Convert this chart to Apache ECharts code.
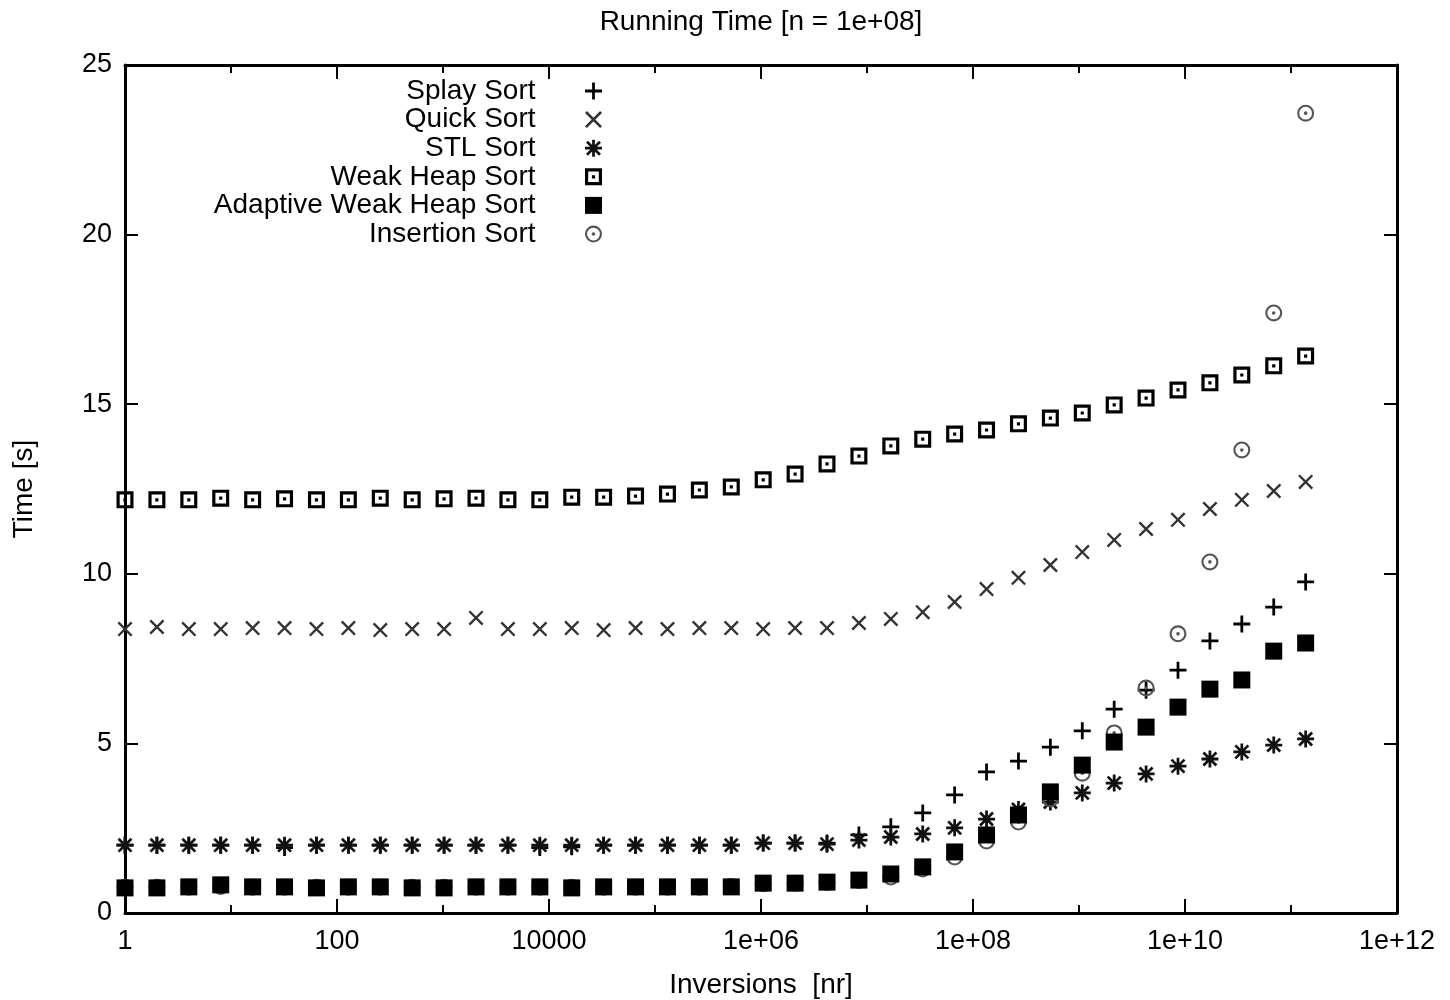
<!DOCTYPE html>
<html>
<head>
<meta charset="utf-8">
<script src="https://cdn.jsdelivr.net/npm/echarts@6/dist/echarts.min.js"></script>
<style>
html,body{margin:0;padding:0;background:#fff;}
#chart{width:1450px;height:1000px;}
</style>
</head>
<body>
<div id="chart"></div>
<script>
// ---- data ----
const inversions = [1, 2, 4, 8, 16, 32, 64, 128, 256, 512, 1024, 2048, 4096, 8192,
  16384, 32768, 65536, 131072, 262144, 524288, 1048576, 2097152, 4194304, 8388608,
  16777216, 33554432, 67108864, 134217728, 268435456, 536870912, 1073741824,
  2147483648, 4294967296, 8589934592, 17179869184, 34359738368, 68719476736, 137438953472];

const splaySort = [2.00, 2.00, 2.00, 2.00, 2.00, 1.93, 2.00, 2.00, 2.00, 2.00, 2.00, 2.00, 2.00, 1.93,
  1.95, 2.00, 2.00, 2.00, 2.00, 2.00, 2.06, 2.06, 2.06, 2.30, 2.54, 2.95, 3.48, 4.16,
  4.48, 4.89, 5.37, 6.01, 6.57, 7.16, 8.02, 8.52, 9.02, 9.76];

const quickSort = [8.37, 8.43, 8.37, 8.37, 8.40, 8.40, 8.37, 8.40, 8.34, 8.37, 8.37, 8.70, 8.37, 8.37,
  8.40, 8.34, 8.40, 8.37, 8.40, 8.40, 8.37, 8.40, 8.40, 8.55, 8.67, 8.87, 9.17, 9.55,
  9.88, 10.26, 10.64, 11.00, 11.32, 11.59, 11.91, 12.18, 12.44, 12.71];

const stlSort = [2.00, 2.00, 2.00, 2.00, 2.00, 2.00, 2.00, 2.00, 2.00, 2.00, 2.00, 2.00, 2.00, 2.00,
  2.00, 2.00, 2.00, 2.00, 2.00, 2.00, 2.06, 2.06, 2.03, 2.15, 2.24, 2.33, 2.51, 2.77,
  3.05, 3.27, 3.54, 3.83, 4.10, 4.33, 4.54, 4.75, 4.95, 5.13];

const weakHeapSort = [12.18, 12.18, 12.18, 12.23, 12.18, 12.21, 12.18, 12.18, 12.23, 12.18, 12.21, 12.23, 12.18, 12.18,
  12.26, 12.26, 12.29, 12.35, 12.47, 12.56, 12.77, 12.94, 13.24, 13.47, 13.77, 13.97, 14.12, 14.24,
  14.42, 14.59, 14.74, 14.98, 15.18, 15.42, 15.63, 15.86, 16.13, 16.42];

const adaptiveWeakHeapSort = [0.74, 0.74, 0.77, 0.83, 0.77, 0.77, 0.74, 0.77, 0.77, 0.74, 0.74, 0.77, 0.77, 0.77,
  0.74, 0.77, 0.77, 0.77, 0.77, 0.77, 0.88, 0.88, 0.91, 0.97, 1.15, 1.36, 1.80, 2.30,
  2.89, 3.57, 4.36, 5.04, 5.48, 6.07, 6.60, 6.87, 7.72, 7.96];

const insertionSort = [0.76, 0.76, 0.76, 0.78, 0.76, 0.76, 0.76, 0.76, 0.76, 0.76, 0.76, 0.76, 0.76, 0.76,
  0.76, 0.76, 0.76, 0.76, 0.76, 0.78, 0.86, 0.88, 0.90, 0.96, 1.06, 1.30, 1.65, 2.12,
  2.68, 3.36, 4.12, 5.31, 6.63, 8.23, 10.35, 13.65, 17.69, 23.58];

const seriesNames = ['Splay Sort', 'Quick Sort', 'STL Sort', 'Weak Heap Sort', 'Adaptive Weak Heap Sort', 'Insertion Sort'];
const xTickLabels = ['1', '100', '10000', '1e+06', '1e+08', '1e+10', '1e+12'];
const titleText = 'Running Time [n = 1e+08]';
const xAxisName = 'Inversions  [nr]';
const yAxisName = 'Time [s]';

// ---- styles ----
const FONT = '"Liberation Sans", Arial, sans-serif';
const SYM = {
  plus: 'path://M0,6.7L16,6.7L16,9.3L0,9.3Z M6.7,0L9.3,0L9.3,16L6.7,16Z',
  cross: 'path://M0,1.8L1.8,0L16,14.2L14.2,16Z M14.2,0L16,1.8L1.8,16L0,14.2Z',
  star: 'path://M0,6.7L16,6.7L16,9.3L0,9.3Z M6.7,0L9.3,0L9.3,16L6.7,16Z M1,2.8L2.8,1L15,13.2L13.2,15Z M13.2,1L15,2.8L2.8,15L1,13.2Z',
  boxDot: 'path://M0,0L16,0L16,16L0,16Z M3,3L3,13L13,13L13,3Z M6.5,6.5L9.5,6.5L9.5,9.5L6.5,9.5Z',
  box: 'path://M0,0L16,0L16,16L0,16Z',
  circleDot: 'path://M0,8A8,8,0,1,1,16,8A8,8,0,1,1,0,8Z M2,8A6,6,0,1,0,14,8A6,6,0,1,0,2,8Z M6.3,8A1.7,1.7,0,1,1,9.7,8A1.7,1.7,0,1,1,6.3,8Z'
};
const seriesValues = [splaySort, quickSort, stlSort, weakHeapSort, adaptiveWeakHeapSort, insertionSort];
const seriesSymbols = [SYM.plus, SYM.cross, SYM.star, SYM.boxDot, SYM.box, SYM.circleDot];
const seriesColors = ['#000000', '#333333', '#111111', '#000000', '#000000', '#555555'];
const seriesSizes = [17, 15, 17, 17, 17, 17];
const seriesZ = [3, 2, 4, 5, 8, 6];

const series = seriesNames.map((name, s) => ({
  name: name,
  type: 'scatter',
  xAxisIndex: 0,
  yAxisIndex: 0,
  symbol: seriesSymbols[s],
  symbolSize: seriesSizes[s],
  symbolKeepAspect: true,
  clip: false,
  itemStyle: { color: seriesColors[s], borderWidth: 0, opacity: 1 },
  emphasis: { disabled: true },
  data: inversions.map((x, i) => [x, seriesValues[s][i]]),
  z: seriesZ[s]
}));

const legendTops = [77, 105.6, 134.2, 162.8, 191.4, 220];
const legends = seriesNames.map((name, s) => ({
  orient: 'vertical',
  right: 848,
  top: legendTops[s],
  padding: 0,
  itemWidth: 106,
  itemHeight: 17,
  align: 'right',
  symbolKeepAspect: true,
  selectedMode: false,
  itemStyle: { borderWidth: 0 },
  textStyle: { fontSize: 28, color: '#000', fontFamily: FONT },
  data: [{ name: name, icon: seriesSymbols[s] }]
}));

const axisLineStyle = { color: '#000', width: 3 };
const tickStyle = { color: '#000', width: 2 };

// labelled log axes (every second decade, long ticks)
function logAxis(pos) {
  return {
    type: 'log',
    logBase: 100,
    min: 1,
    max: 1e12,
    position: pos,
    gridIndex: 0,
    axisLine: { show: true, onZero: false, lineStyle: axisLineStyle },
    axisTick: { show: true, inside: true, length: 14, lineStyle: tickStyle },
    splitLine: { show: false }
  };
}
// helper axes for the short per-decade ticks (exponent scale, no data)
function decadeTickAxis(pos) {
  return {
    type: 'value',
    min: 0,
    max: 12,
    interval: 1,
    position: pos,
    gridIndex: 0,
    axisLine: { show: false, onZero: false },
    axisTick: { show: true, inside: true, length: 8, lineStyle: tickStyle },
    axisLabel: { show: false },
    splitLine: { show: false }
  };
}

const option = {
  animation: false,
  backgroundColor: '#fff',
  title: {
    text: titleText,
    left: 761,
    top: 8,
    padding: 0,
    textAlign: 'center',
    textStyle: { fontSize: 28, fontWeight: 'normal', color: '#000', fontFamily: FONT }
  },
  legend: legends,
  grid: { left: 125, right: 53, top: 65, bottom: 87, containLabel: false, outerBoundsMode: 'none' },
  xAxis: [
    Object.assign(logAxis('bottom'), {
      axisLabel: {
        show: true, margin: 15, fontSize: 27, color: '#000', fontFamily: FONT,
        formatter: (v) => xTickLabels[Math.round(Math.log10(v) / 2)]
      },
      name: xAxisName,
      nameLocation: 'middle',
      nameGap: 58,
      nameTextStyle: { fontSize: 28, color: '#000', fontFamily: FONT }
    }),
    Object.assign(logAxis('top'), { axisLabel: { show: false } }),
    decadeTickAxis('bottom'),
    decadeTickAxis('top')
  ],
  yAxis: [
    {
      type: 'value', min: 0, max: 25, interval: 5, position: 'left',
      axisLine: { show: true, onZero: false, lineStyle: axisLineStyle },
      axisTick: { show: true, inside: true, length: 13, lineStyle: tickStyle },
      splitLine: { show: false },
      axisLabel: { margin: 13, fontSize: 27, color: '#000', fontFamily: FONT },
      name: yAxisName, nameLocation: 'middle', nameGap: 87, nameRotate: 90,
      nameTextStyle: { fontSize: 28, color: '#000', fontFamily: FONT }
    },
    {
      type: 'value', min: 0, max: 25, interval: 5, position: 'right',
      axisLine: { show: true, onZero: false, lineStyle: axisLineStyle },
      axisTick: { show: true, inside: true, length: 13, lineStyle: tickStyle },
      splitLine: { show: false },
      axisLabel: { show: false }
    }
  ],
  series: series
};

const chart = echarts.init(document.getElementById('chart'), null, { renderer: 'canvas', width: 1450, height: 1000 });
chart.setOption(option);
</script>
</body>
</html>
